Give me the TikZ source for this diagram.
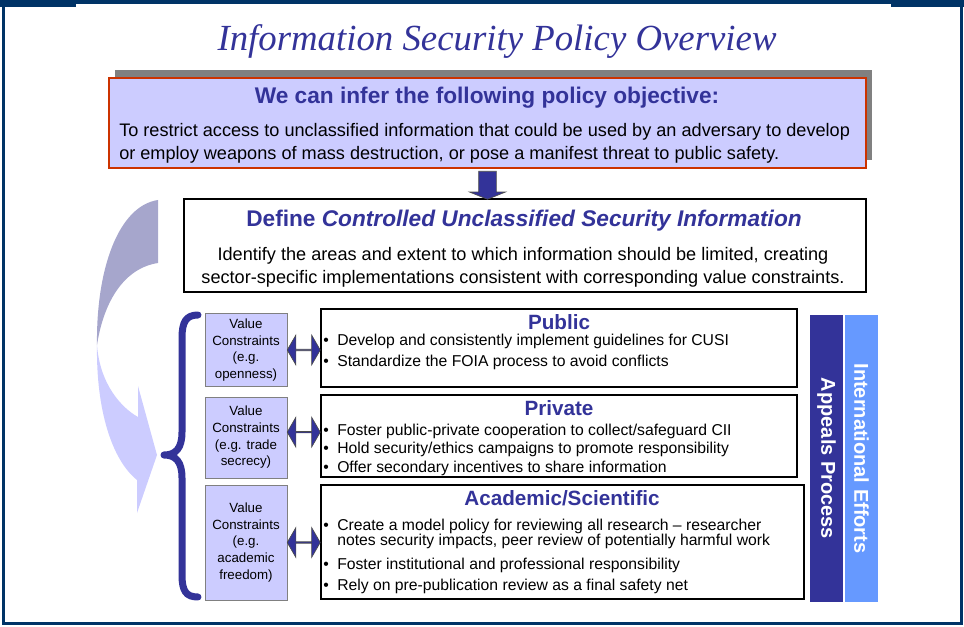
\documentclass[tikz,border=0pt]{standalone}
\usepackage{fontspec}
\setmainfont{Liberation Sans}
\newfontfamily\titlefont{Liberation Serif}
\usetikzlibrary{shapes.arrows,fit}
\definecolor{navy}{HTML}{333399}
\definecolor{lav}{HTML}{CCCCFF}
\definecolor{lavdark}{HTML}{A6A6CC}
\definecolor{framecol}{HTML}{003366}
\definecolor{redline}{HTML}{CC3300}
\definecolor{skyblue}{HTML}{6699FF}
\newcommand{\itm}{\makebox[10.5pt][l]{•}}
\begin{document}
\begin{tikzpicture}[x=0.75pt,y=-0.75pt,
    box/.style={draw=black,line width=1.5pt,fill=white,inner sep=0pt},
    vcbox/.style={draw=gray,fill=lav,line width=0.75pt,inner sep=0pt},
    head/.style={text=navy,font=\bfseries\fontsize{17}{20}\selectfont},
    sectitle/.style={text=navy,font=\bfseries\fontsize{15.5}{18}\selectfont},
    vctext/.style={align=center,font=\fontsize{10}{12.5}\selectfont},
    bullets/.style={align=left,anchor=west,inner sep=0pt},
    dblarrow/.style={double arrow,fill=navy,draw=black!70,line width=0.5pt,inner sep=0pt,
        minimum height=24.75pt,minimum width=22.5pt,double arrow head extend=4.9pt,double arrow tip angle=120},
    bartext/.style={rotate=-90,text=white,font=\bfseries\fontsize{15}{18}\selectfont}]
    \useasboundingbox (0,0) rectangle (964,627);

    % page frame
    \draw[framecol,line width=2.25pt] (3.5,2) -- (3.5,623.5) -- (961,623.5) -- (961,2);
    \fill[framecol] (0,0) rectangle (964,4);
    \fill[framecol] (0,0) rectangle (76,7);
    \fill[framecol] (891,0) rectangle (964,7);

    \node[text=navy,font=\titlefont\itshape\fontsize{27.6}{30}\selectfont] (title) at (497,42) {Information Security Policy Overview};

    % objective
    \fill[gray] (115,70) rectangle (872,160);
    \node[fit={(109,78) (866,168)},draw=redline,line width=1.5pt,fill=lav,inner sep=0pt] (obj) {};
    \node[head] (objhead) at (487,98) {We can infer the following policy objective:};
    \node[bullets,font=\fontsize{13.6}{17.25}\selectfont] (objtext) at (119,143) {To restrict access to unclassified information that could be used by an adversary to develop\\or employ weapons of mass destruction, or pose a manifest threat to public safety.};

    % define CUSI
    \node[box,fit={(184,199) (866,292)}] (def) {};
    \node[head] (defhead) at (524,221) {Define \textit{Controlled Unclassified Security Information}};
    \node[align=center,font=\fontsize{13.6}{17.25}\selectfont] (deftext) at (523,267) {Identify the areas and extent to which information should be limited, creating\\sector-specific implementations consistent with corresponding value constraints.};
    \path (obj.south) -- (obj.south |- def.north) node[midway,single arrow,rotate=-90,fill=navy,draw=black!70,line width=0.5pt,inner sep=0pt,
        text height=12.75pt,text depth=0pt,minimum height=21pt,single arrow head extend=6.75pt,single arrow tip angle=136] (down) {};

    % curved arrow
    \fill[lavdark] (158,200) .. controls (118,206) and (96,270) .. (97,345) .. controls (104,300) and (125,268) .. (158,263) -- cycle;
    \fill[lav] (97,345) .. controls (96,410) and (112,460) .. (137,480) -- (137,513) -- (157,455) -- (138,386) -- (138,417) .. controls (122,408) and (100,385) .. (97,345);

    % brace
    \draw[navy,line width=5.25pt,line cap=round,line join=round] (198,315) .. controls (186,315) and (182,322) .. (182,338) -- (182,432)
        .. controls (182,448) and (176,455) .. (164,455) .. controls (176,455) and (182,462) .. (182,478) -- (182,575) .. controls (182,591) and (186,597) .. (198,597);

    % value constraints
    \node[vcbox,fit={(205,314) (287,386)}] (vc1) {};
    \node[vcbox,fit={(205,397) (287,478)}] (vc2) {};
    \node[vcbox,fit={(205,485) (287,600)}] (vc3) {};
    \node[vctext] at (vc1.center) {Value\\Constraints\\(e.g.\\openness)};
    \node[vctext] at (vc2.center) {Value\\Constraints\\(e.g. trade\\secrecy)};
    \node[vctext] at (vc3.center) {Value\\Constraints\\(e.g.\\academic\\freedom)};

    % sectors
    \node[box,fit={(321,309) (797,387)}] (pub) {};
    \node[box,fit={(321,395) (797,477)}] (priv) {};
    \node[box,fit={(321,485) (804,599)}] (aca) {};
    \node[sectitle] (pubhead) at (559,322) {Public};
    \node[sectitle] (privhead) at (559,408) {Private};
    \node[sectitle] (acahead) at (562,498) {Academic/Scientific};
    \node[bullets,font=\fontsize{11.8}{15.2}\selectfont] (pubtext) at (323,352) {\itm Develop and consistently implement guidelines for CUSI\\\itm Standardize the FOIA process to avoid conflicts};
    \node[bullets,font=\fontsize{11.8}{13.9}\selectfont] (privtext) at (323,449.5) {\itm Foster public-private cooperation to collect/safeguard CII\\\itm Hold security/ethics campaigns to promote responsibility\\\itm Offer secondary incentives to share information};
    \node[bullets,font=\fontsize{11.8}{11.25}\selectfont] (acatext) at (323,556.5) {\itm Create a model policy for reviewing all research – researcher\\\phantom{\itm}notes security impacts, peer review of potentially harmful work\\[6.75pt]\itm Foster institutional and professional responsibility\\[4.5pt]\itm Rely on pre-publication review as a final safety net};

    \path (vc1.east) -- (pub.west |- vc1.east) node[midway,dblarrow] (arr1) {};
    \path (vc2.east) -- (priv.west |- vc2.east) node[midway,dblarrow,yshift=4pt] (arr2) {};
    \path (vc3.east) -- (aca.west |- vc3.east) node[midway,dblarrow] (arr3) {};

    % side bars
    \node[fit={(810,315) (843,602)},fill=navy,inner sep=0pt] (appeals) {};
    \node[fit={(845,315) (878,602)},fill=skyblue,inner sep=0pt] (intl) {};
    \node[bartext] at (appeals.center) {Appeals Process};
    \node[bartext] at (intl.center) {International Efforts};
\end{tikzpicture}
\end{document}
